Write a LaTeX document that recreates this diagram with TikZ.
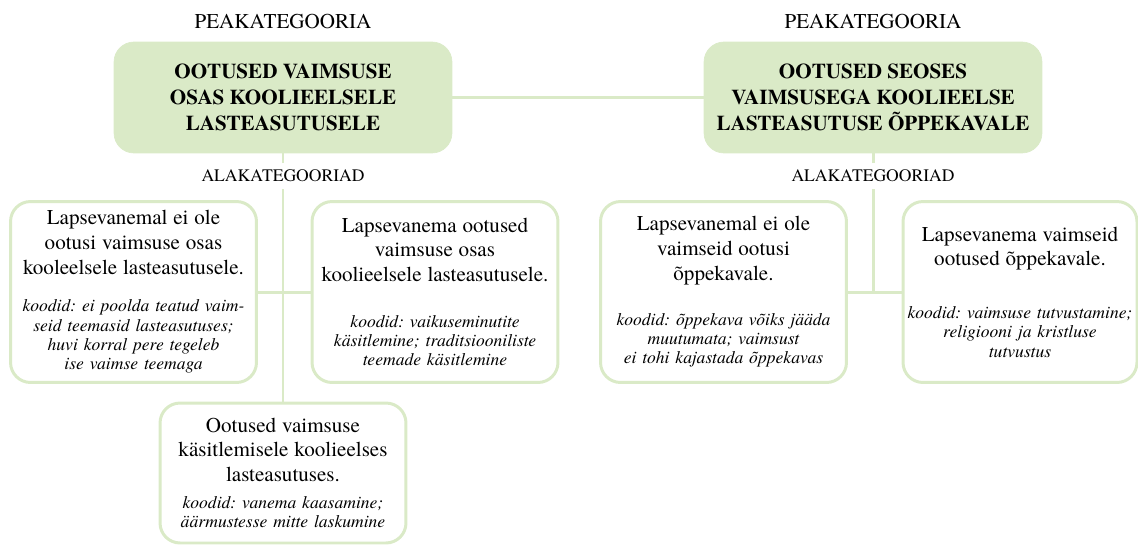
\documentclass[tikz,border=0pt]{standalone}
\usepackage{fontspec}
\setmainfont{TeX Gyre Termes}
\frenchspacing
\usetikzlibrary{positioning}
\definecolor{roheline}{RGB}{218,234,199}
\newcommand{\kast}[3][9pt]{{\fontsize{12}{14}\selectfont #2\par}\vspace{#1}{\itshape\fontsize{10}{11}\selectfont #3\par}}
\tikzset{
  pea/.style={rounded corners=0.4cm,fill=roheline,draw=roheline,minimum width=6.76cm,minimum height=2.22cm,align=center,inner sep=0pt,font=\fontsize{12}{14.8}\selectfont\bfseries},
  ala/.style={rounded corners=0.4cm,draw=roheline,line width=1.7pt,fill=white,minimum width=4.92cm,minimum height=3.62cm,text width=4.8cm,align=center,inner sep=0pt},
  silt/.style={inner sep=4pt,font=\fontsize{12}{14}\selectfont},
  joon/.style={roheline,line width=1.7pt}
}
\begin{document}
\begin{tikzpicture}[x=0.02cm,y=-0.02cm]
\useasboundingbox(0,0)rectangle(1138,545);
\node[silt](pk1)at(283,22){PEAKATEGOORIA};
\node[silt](pk2)at(873,22){PEAKATEGOORIA};
\node[pea](tl)at(283,97.5){OOTUSED VAIMSUSE\\OSAS KOOLIEELSELE\\ LASTEASUTUSELE};
\node[pea](tr)at(873,97.5){OOTUSED SEOSES\\VAIMSUSEGA KOOLIEELSE\\LASTEASUTUSE ÕPPEKAVALE};
\node[silt,font=\fontsize{10}{12}\selectfont](al1)at(283,176){ALAKATEGOORIAD};
\node[silt,font=\fontsize{10}{12}\selectfont](al2)at(873,176){ALAKATEGOORIAD};
\node[ala](b1)at(133.5,292){\kast[10.5pt]{Lapsevanemal ei ole\\ootusi vaimsuse osas\\kooleelsele lasteasutusele.}{koodid: ei poolda teatud vaim-\\seid teemasid lasteasutuses;\\huvi korral pere tegeleb\\ise vaimse teemaga}};
\node[ala](b2)at(435,292){\kast[15pt]{Lapsevanema ootused\\vaimsuse osas\\koolieelsele lasteasutusele.}{koodid: vaikuseminutite\\käsitlemine; traditsiooniliste\\teemade käsitlemine}};
\node[ala,minimum height=2.8cm](b3)at(283,473){\kast[4.4pt]{Ootused vaimsuse\\käsitlemisele koolieelses\\lasteasutuses.}{koodid: vanema kaasamine;\\äärmustesse mitte laskumine}};
\node[ala](b4)at(723.5,292){\kast[14.6pt]{Lapsevanemal ei ole\\vaimseid ootusi\\õppekavale.}{koodid: õppekava võiks jääda\\muutumata; vaimsust\\ei tohi kajastada õppekavas}};
\node[ala,minimum width=4.68cm,text width=4.6cm](b5)at(1020,292){\kast[19pt]{Lapsevanema vaimseid\\ootused õppekavale.}{koodid: vaimsuse tutvustamine;\\religiooni ja kristluse\\tutvustus}};
\coordinate(j2)at(873,292);
\draw[joon](tl)--(tr);
\draw[joon](tl)--(al1);
\draw[joon](al1)--(b3);
\draw[joon](b1)--(b2);
\draw[joon](tr)--(al2);
\draw[joon](al2)--(j2);
\draw[joon](b4)--(b5);
\end{tikzpicture}
\end{document}
